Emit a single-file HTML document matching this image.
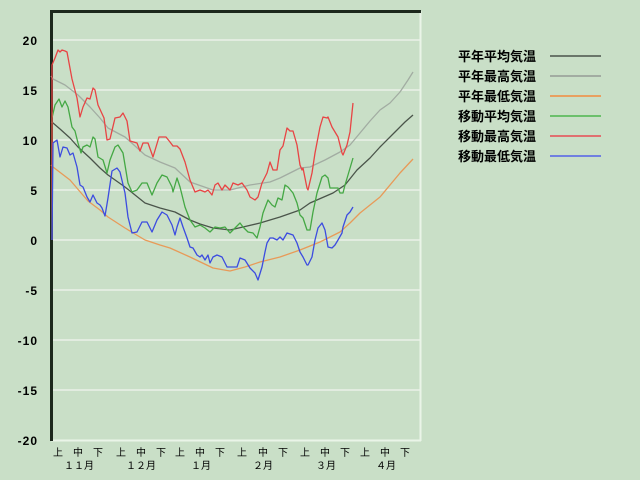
<!DOCTYPE html>
<html><head><meta charset="utf-8"><style>
html,body{margin:0;padding:0;background:#c9dfc7;}
svg{display:block;}
.yl{font-family:"Liberation Sans",sans-serif;font-weight:bold;font-size:12px;fill:#000;letter-spacing:1px;}
.xl{font-family:"Liberation Sans","WenQuanYi Zen Hei","Noto Sans CJK JP",sans-serif;font-size:10px;fill:#000;}
.lg{font-family:"Liberation Sans","WenQuanYi Zen Hei","Noto Sans CJK JP",sans-serif;font-weight:bold;font-size:13px;fill:#000;}
</style></head><body>
<svg width="640" height="480" viewBox="0 0 640 480" xmlns="http://www.w3.org/2000/svg">
<rect x="0" y="0" width="640" height="480" fill="#c9dfc7"/>
<g stroke="#e2ece0" stroke-width="2">
<line x1="52" y1="40" x2="420" y2="40"/>
<line x1="52" y1="90" x2="420" y2="90"/>
<line x1="52" y1="140" x2="420" y2="140"/>
<line x1="52" y1="190" x2="420" y2="190"/>
<line x1="52" y1="240" x2="420" y2="240"/>
<line x1="52" y1="290" x2="420" y2="290"/>
<line x1="52" y1="340" x2="420" y2="340"/>
<line x1="52" y1="390" x2="420" y2="390"/>
</g>
<line x1="420.5" y1="11" x2="420.5" y2="441" stroke="#eaf4e8" stroke-width="2"/>
<line x1="51" y1="440.5" x2="421" y2="440.5" stroke="#eaf4e8" stroke-width="2"/>
<rect x="50" y="10" width="3" height="431" fill="#1c281c"/>
<rect x="50" y="10" width="371" height="3" fill="#1c281c"/>
<g class="yl" text-anchor="end">
<text x="38" y="45">20</text>
<text x="38" y="95">15</text>
<text x="38" y="145">10</text>
<text x="38" y="195">5</text>
<text x="38" y="245">0</text>
<text x="38" y="295">-5</text>
<text x="38" y="345">-10</text>
<text x="38" y="395">-15</text>
<text x="38" y="445">-20</text>
</g>
<g class="xl" text-anchor="middle">
<text x="58" y="456">上</text><text x="78" y="456">中</text><text x="98" y="456">下</text>
<text x="121" y="456">上</text><text x="141" y="456">中</text><text x="161" y="456">下</text>
<text x="180" y="456">上</text><text x="200" y="456">中</text><text x="220" y="456">下</text>
<text x="242" y="456">上</text><text x="263" y="456">中</text><text x="283" y="456">下</text>
<text x="305" y="456">上</text><text x="325" y="456">中</text><text x="345" y="456">下</text>
<text x="365" y="456">上</text><text x="385" y="456">中</text><text x="405" y="456">下</text>
<text x="79" y="469">１１月</text>
<text x="141" y="469">１２月</text>
<text x="201" y="469">１月</text>
<text x="263" y="469">２月</text>
<text x="326" y="469">３月</text>
<text x="386" y="469">４月</text>
</g>
<g fill="none" stroke-width="1.3" stroke-linejoin="round">
<polyline stroke="#a2aca2" points="51,76 53,79 65,85 78,95 90,107 100,118 108,128 125,137 145,155 160,162 175,168 190,182 213,190 230,190 250,185 270,182 280,178 300,168 310,167 325,160 340,152 350,145 360,133 370,121 380,110 390,103 400,92 408,80 413,72"/>
<polyline stroke="#e89a58" points="51,165 53,167 70,180 88,201 100,210 108,217 125,228 145,240 160,245 170,248 190,257 213,268 230,271 245,267 260,262 280,257 300,250 320,242 340,232 350,223 360,213 380,197 400,173 413,159"/>
<polyline stroke="#4a544a" points="51,122 53,123 60,129 70,138 78,147 90,158 100,168 108,175 125,187 145,203 160,208 175,212 190,220 200,224 213,228 230,230 243,227 260,223 280,217 300,210 310,203 333,193 345,185 357,170 370,158 380,147 395,132 405,122 413,115"/>
<polyline stroke="#44a844" points="52,240 52,118 55,105 59,99 62,107 65,101 68,107 72,127 75,131 78,143 81,153 83,147 87,145 90,147 93,137 95,139 98,157 103,160 107,173 110,160 115,147 118,145 123,153 128,183 132,192 137,190 142,183 147,183 152,195 157,183 162,175 167,177 172,187 173,192 177,178 180,187 185,207 190,220 195,227 200,225 205,228 210,232 215,227 220,228 225,227 230,233 235,228 240,223 243,227 248,232 253,233 257,238 260,227 263,213 268,200 272,205 275,207 278,198 282,200 285,185 288,187 293,193 297,203 300,215 303,218 307,230 310,230 313,212 317,193 322,177 325,175 328,178 330,188 335,188 338,188 340,193 343,193 345,185 348,175 353,158"/>
<polyline stroke="#e84444" points="52,240 52,65 55,58 58,50 60,52 62,50 65,51 67,52 72,79 77,98 80,117 83,107 87,98 90,99 93,88 95,90 98,105 104,118 107,140 110,139 115,118 120,117 123,113 127,121 130,141 137,143 140,151 143,143 148,143 153,157 159,137 166,137 170,142 173,146 177,146 180,149 185,162 190,180 195,192 200,190 205,192 208,190 212,195 215,185 218,183 222,190 225,185 230,190 233,183 238,185 242,183 247,190 250,197 255,200 258,197 262,183 267,173 270,162 273,170 277,170 280,150 283,146 287,128 290,131 293,131 297,145 300,165 302,170 303,168 307,188 308,190 312,173 315,153 320,127 323,117 327,118 328,117 332,127 335,132 338,137 342,153 343,155 347,145 350,132 353,103"/>
<polyline stroke="#3c4ce0" points="52,240 53,143 57,140 60,157 63,147 67,148 70,155 73,153 77,167 80,185 83,187 87,197 90,202 93,195 97,203 100,205 102,208 105,216 108,198 112,171 117,168 120,172 125,193 128,217 132,233 137,232 142,222 147,222 152,232 157,220 162,212 167,215 172,225 175,235 177,227 180,218 183,227 187,238 190,247 193,248 197,255 200,257 202,255 205,260 208,255 210,263 213,257 217,255 222,257 227,267 232,267 237,267 240,258 245,260 250,268 255,273 258,280 262,267 265,252 267,243 270,238 273,238 277,240 280,237 283,240 287,233 290,234 293,235 297,243 300,252 303,257 307,265 308,265 312,257 315,240 318,228 322,223 325,230 328,247 332,248 335,245 338,240 342,233 343,227 347,215 350,212 353,207"/>
</g>
<g class="lg">
<text x="458" y="61">平年平均気温</text>
<text x="458" y="81">平年最高気温</text>
<text x="458" y="101">平年最低気温</text>
<text x="458" y="121">移動平均気温</text>
<text x="458" y="141">移動最高気温</text>
<text x="458" y="161">移動最低気温</text>
</g>
<g stroke-width="2">
<line x1="550" y1="56" x2="601" y2="56" stroke="#6a766a"/>
<line x1="550" y1="76" x2="601" y2="76" stroke="#a2aca2"/>
<line x1="550" y1="96" x2="601" y2="96" stroke="#e8a060"/>
<line x1="550" y1="116" x2="601" y2="116" stroke="#6cc06c"/>
<line x1="550" y1="136" x2="601" y2="136" stroke="#e07070"/>
<line x1="550" y1="156" x2="601" y2="156" stroke="#7080e0"/>
</g>
</svg>
</body></html>
